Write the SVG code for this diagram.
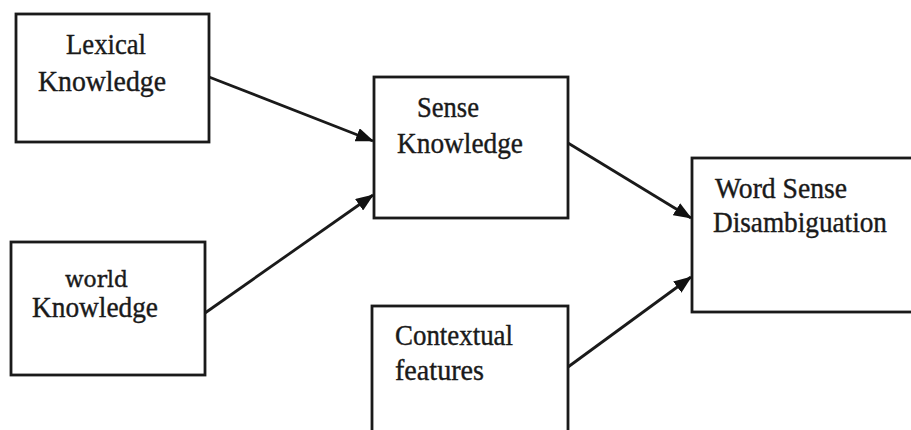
<svg xmlns="http://www.w3.org/2000/svg" width="911" height="430" viewBox="0 0 911 430">
<style>
.box{fill:#fff;stroke:#1a1a1a;stroke-width:2.8}
.t{font-family:"Liberation Serif","Times New Roman",serif;font-size:30px;fill:#1a1a1a;stroke:#1a1a1a;stroke-width:0.4}
.w{font-family:"DejaVu Serif",serif;font-size:22px;fill:#1a1a1a;stroke:#1a1a1a;stroke-width:0.4}
.c{stroke:#1a1a1a;stroke-width:2.8;fill:none;marker-end:url(#ah)}
</style>
<defs>
<marker id="ah" viewBox="0 0 18 14" refX="17" refY="7" markerWidth="18" markerHeight="14" markerUnits="userSpaceOnUse" orient="auto">
<path d="M0,0 L18,7 L0,14 Z" fill="#111"/>
</marker>
</defs>
<rect width="911" height="430" fill="#fff"/>
<g id="lexical">
<rect class="box" x="16" y="14" width="193" height="128"/>
<text class="t" x="66" y="54" textLength="80" lengthAdjust="spacingAndGlyphs">Lexical</text>
<text class="t" x="38" y="91" textLength="128" lengthAdjust="spacingAndGlyphs">Knowledge</text>
</g>
<g id="world">
<rect class="box" x="11" y="242" width="194" height="133"/>
<text class="w" x="65" y="287" textLength="63" lengthAdjust="spacingAndGlyphs">world</text>
<text class="t" x="32" y="317" textLength="126" lengthAdjust="spacingAndGlyphs">Knowledge</text>
</g>
<g id="sense">
<rect class="box" x="374" y="77" width="194" height="141"/>
<text class="t" x="417" y="117" textLength="62" lengthAdjust="spacingAndGlyphs">Sense</text>
<text class="t" x="397" y="153" textLength="126" lengthAdjust="spacingAndGlyphs">Knowledge</text>
</g>
<g id="contextual">
<rect class="box" x="372" y="306" width="196" height="140"/>
<text class="t" x="395" y="345" textLength="118" lengthAdjust="spacingAndGlyphs">Contextual</text>
<text class="t" x="395" y="380" textLength="89" lengthAdjust="spacingAndGlyphs">features</text>
</g>
<g id="wsd">
<rect class="box" x="692" y="158" width="240" height="154"/>
<text class="t" x="715" y="198" textLength="132" lengthAdjust="spacingAndGlyphs">Word Sense</text>
<text class="t" x="713" y="232" textLength="174" lengthAdjust="spacingAndGlyphs">Disambiguation</text>
</g>
<g id="connectors">
<line class="c" x1="209" y1="77" x2="373" y2="141"/>
<line class="c" x1="205" y1="313" x2="373" y2="195"/>
<line class="c" x1="568" y1="143" x2="691" y2="218"/>
<line class="c" x1="568" y1="367" x2="691" y2="277"/>
</g>
</svg>
